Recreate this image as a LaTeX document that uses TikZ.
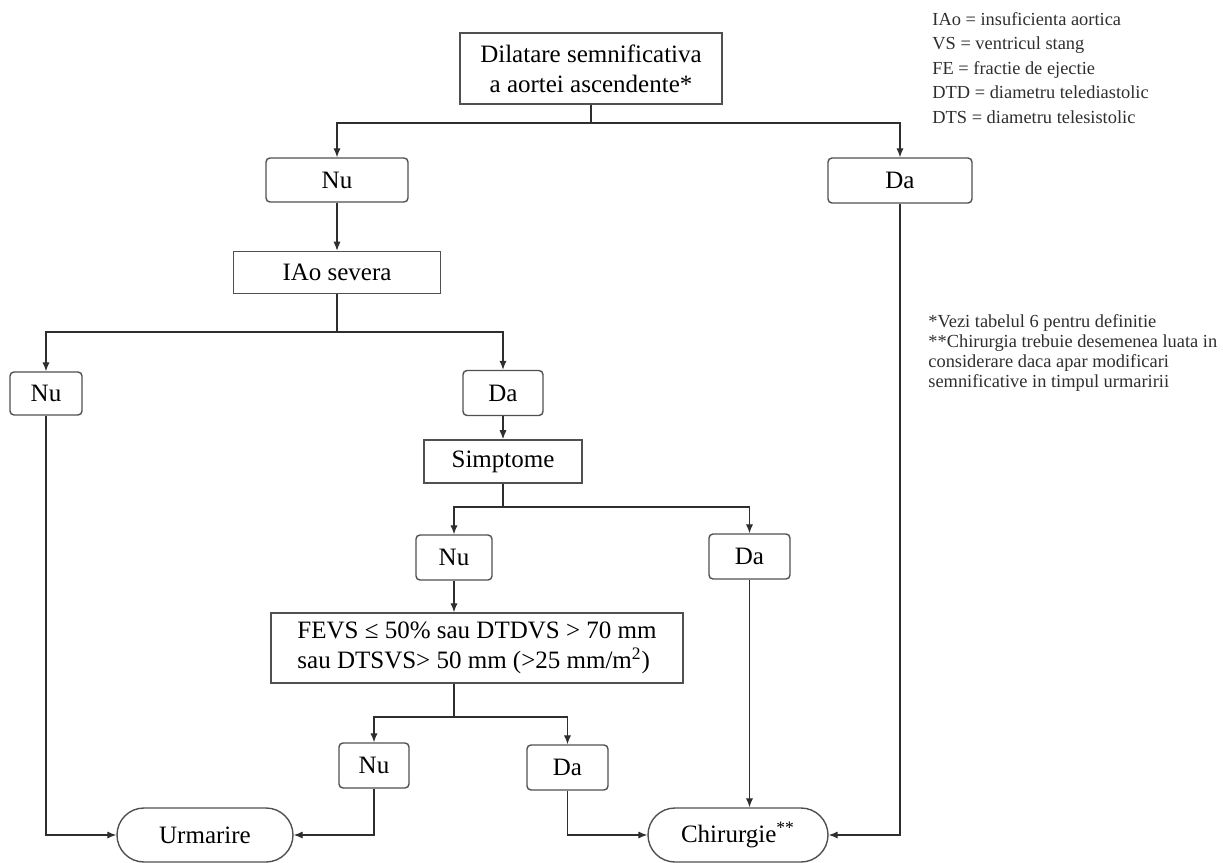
\documentclass[tikz,border=0pt]{standalone}
\usepackage{fontspec}
\setmainfont{Liberation Serif}
\usetikzlibrary{arrows.meta,calc,positioning}
\definecolor{Ink}{HTML}{2E2E2E}
\definecolor{Frame}{HTML}{505050}

\begin{document}
\begin{tikzpicture}[
    x=0.5pt,y=-0.5pt,
    box/.style={draw=Frame,line width=0.7pt,inner sep=0pt,align=center,
      font=\fontsize{12.5}{15}\selectfont},
    test/.style={box},
    choice/.style={box,rounded corners=2pt},
    outcome/.style={box,rounded corners=13.5pt,minimum height=27pt},
    link/.style={line width=0.6pt,color=Ink},
    arrow/.style={link,-{Latex[length=4.5pt,width=3.6pt]}},
    note/.style={anchor=north west,align=left,inner sep=0pt,text=Ink}
  ]
  \useasboundingbox (0,0) rectangle (1223,863);

  % start and first answer
  \node[test,minimum width=131pt,minimum height=35.5pt] (dilat) at (591,68.5)
    {Dilatare semnificativa\\a aortei ascendente*};
  \coordinate (s1) at (591,123);
  \node[choice,minimum width=71pt,minimum height=22pt] (nuA) at (337,180) {Nu};
  \node[choice,minimum width=72pt,minimum height=22.5pt] (daA) at (900,180.5) {Da};

  % regurgitation branch
  \node[test,minimum width=103.5pt,minimum height=21pt,below=24pt of nuA] (iao) {IAo severa};
  \coordinate (s2) at (337,332);
  \node[choice,minimum width=36pt,minimum height=21.5pt] (nuB) at (46,393.5) {Nu};
  \node[choice,minimum width=40pt,minimum height=22.5pt] (daB) at (503,393) {Da};
  \node[test,minimum width=79pt,minimum height=21.5pt,below=11.5pt of daB] (simpt) {Simptome};
  \coordinate (s3) at (503,507);
  \node[choice,minimum width=38pt,minimum height=22.5pt] (nuC) at (454,557.5) {Nu};
  \node[choice,minimum width=40.5pt,minimum height=22.5pt] (daC) at (749.5,556.5) {Da};
  \node[test,minimum width=206pt,minimum height=35pt,align=left] (fevs) at (477,648)
    {FEVS ≤ 50\% sau DTDVS > 70 mm\\sau DTSVS> 50 mm (>25 mm/m\textsuperscript{2})};
  \coordinate (s4) at (454,717);
  \node[choice,minimum width=35pt,minimum height=22.5pt] (nuD) at (374,765.5) {Nu};
  \node[choice,minimum width=40.5pt,minimum height=22.5pt] (daD) at (567.5,767.5) {Da};

  % outcomes
  \node[outcome,minimum width=88pt] (urm) at (205,835) {Urmarire};
  \node[outcome,minimum width=90pt] (chir) at (738,835) {Chirurgie\textsuperscript{**}};

  % connectors
  \draw[link] (dilat) -- (s1);
  \draw[arrow] (s1) -| (nuA);
  \draw[arrow] (s1) -| (daA);
  \draw[arrow] (nuA) -- (iao);
  \draw[link] (iao) -- (s2);
  \draw[arrow] (s2) -| (nuB);
  \draw[arrow] (s2) -| (daB);
  \draw[arrow] (daB) -- (simpt);
  \draw[link] (simpt) -- (s3);
  \draw[arrow] (s3) -| (nuC);
  \draw[arrow] (s3) -| (daC);
  \draw[arrow] (nuC) -- (nuC |- fevs.north);
  \draw[link] (s4 |- fevs.south) -- (s4);
  \draw[arrow] (s4) -| (nuD);
  \draw[arrow] (s4) -| (daD);
  \draw[arrow] (nuB) |- (urm);
  \draw[arrow] (nuD) |- (urm);
  \draw[arrow] (daD) |- (chir);
  \draw[arrow] (daC) -- (daC |- chir.north);
  \draw[arrow] (daA) |- (chir);

  % legend and footnotes
  \node[note,font=\fontsize{9.2}{12.25}\selectfont] (abbr) at (932,12)
    {IAo = insuficienta aortica\\VS = ventricul stang\\FE = fractie de ejectie\\
     DTD = diametru telediastolic\\DTS = diametru telesistolic};
  \node[note,font=\fontsize{9.2}{10}\selectfont] (foot) at (928,314)
    {*Vezi tabelul 6 pentru definitie\\**Chirurgia trebuie desemenea luata in\\
     considerare daca apar modificari\\semnificative in timpul urmaririi};
\end{tikzpicture}
\end{document}
